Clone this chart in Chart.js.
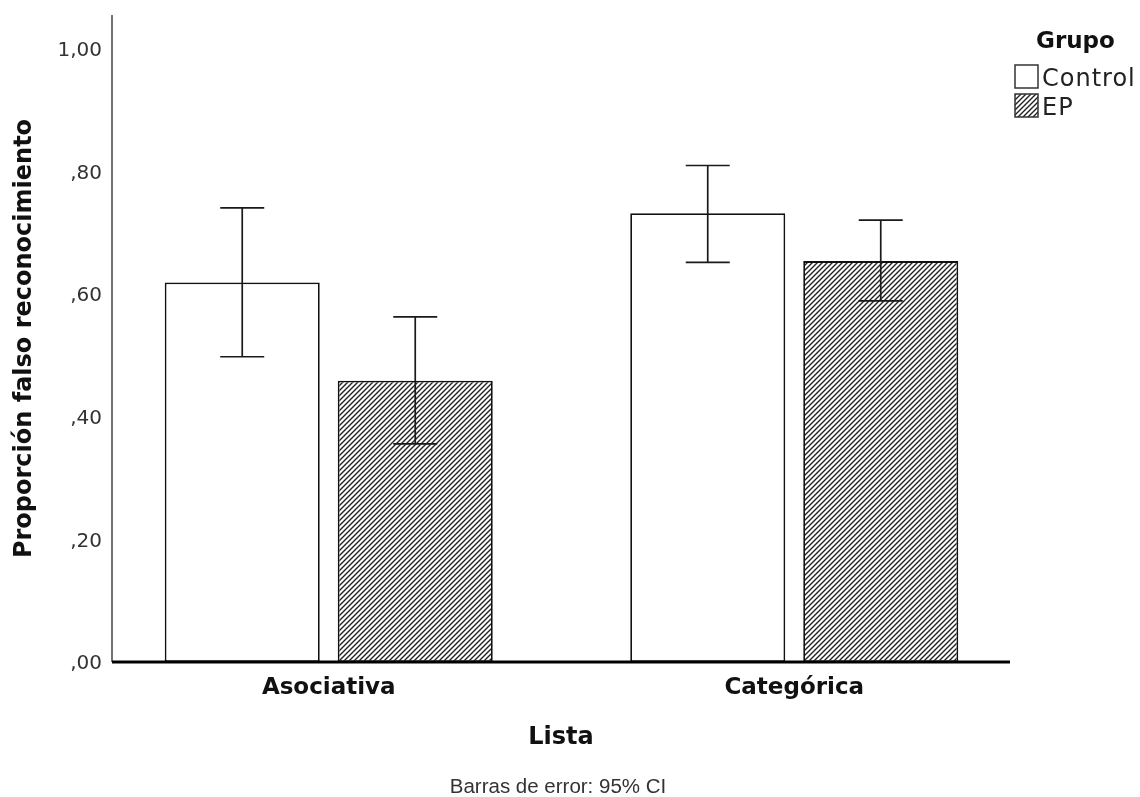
<!DOCTYPE html>
<html lang="es">
<head>
<meta charset="utf-8">
<title>Proporción falso reconocimiento</title>
<script src="https://cdn.jsdelivr.net/npm/chart.js@4.4.1/dist/chart.umd.min.js"></script>
<style>
  html, body { margin: 0; padding: 0; background: #fff; }
  #chart { display: block; }
</style>
</head>
<body>
<canvas id="chart" width="1140" height="797"></canvas>
<script>
// --- Data ---
const categories = ['Asociativa', 'Categórica'];
const groupLabels = ['Control', 'EP'];

const controlMeans = [0.619, 0.732];
const controlLower = [0.498, 0.652];
const controlUpper = [0.741, 0.810];

const epMeans = [0.459, 0.654];
const epLower = [0.356, 0.589];
const epUpper = [0.563, 0.721];

const yTickValues = [0, 0.2, 0.4, 0.6, 0.8, 1.0];
const yTickLabels = [',00', ',20', ',40', ',60', ',80', '1,00'];

// x range in category units (SPSS leaves more room left of the first group)
const xRange = [-0.4656, 1.4635];

const xTitle = 'Lista';
const yTitle = 'Proporción falso reconocimiento';
const legendTitle = 'Grupo';
const footnote = 'Barras de error: 95% CI';

document.addEventListener('DOMContentLoaded', () => {

    // --- Hatch pattern for the EP bars ---
    const makeHatch = () => {
        const s = 5;
        const tile = document.createElement('canvas');
        tile.width = s;
        tile.height = s;
        const t = tile.getContext('2d');
        t.fillStyle = '#fff';
        t.fillRect(0, 0, s, s);
        t.strokeStyle = '#222';
        t.lineWidth = 1.4;
        t.beginPath();
        t.moveTo(-1, s + 1); t.lineTo(s + 1, -1);
        t.moveTo(-1, 1); t.lineTo(1, -1);
        t.moveTo(s - 1, s + 1); t.lineTo(s + 1, s - 1);
        t.stroke();
        return t.createPattern(tile, 'repeat');
    };
    const ctx = document.getElementById('chart').getContext('2d');
    const hatch = makeHatch();

    // category index -> {x, y} points for the linear x scale
    const toPoints = (values) => values.map((v, i) => ({ x: i, y: v }));

    // --- Axis lines: thin grey y axis, heavy black baseline ---
    const axisLinesPlugin = {
        id: 'axisLines',
        afterDatasetsDraw(chart) {
            const { ctx, chartArea, scales: { y } } = chart;
            const zero = y.getPixelForValue(0);
            ctx.save();
            ctx.strokeStyle = '#444';
            ctx.lineWidth = 1.5;
            ctx.beginPath();
            ctx.moveTo(chartArea.left, chartArea.top);
            ctx.lineTo(chartArea.left, zero);
            ctx.stroke();
            ctx.strokeStyle = '#000';
            ctx.lineWidth = 3.2;
            ctx.beginPath();
            ctx.moveTo(chartArea.left, zero);
            ctx.lineTo(chartArea.right, zero);
            ctx.stroke();
            ctx.restore();
        }
    };

    // --- 95% CI error bars ---
    const errorBarsPlugin = {
        id: 'errorBars',
        afterDatasetsDraw(chart) {
            const { ctx, scales: { y } } = chart;
            const cap = 22;
            chart.data.datasets.forEach((ds, i) => {
                chart.getDatasetMeta(i).data.forEach((bar, j) => {
                    const top = y.getPixelForValue(ds.upper[j]);
                    const bottom = y.getPixelForValue(ds.lower[j]);
                    ctx.save();
                    ctx.strokeStyle = '#1a1a1a';
                    ctx.lineWidth = 1.7;
                    ctx.beginPath();
                    ctx.moveTo(bar.x, top); ctx.lineTo(bar.x, bottom);
                    ctx.moveTo(bar.x - cap, top); ctx.lineTo(bar.x + cap, top);
                    ctx.moveTo(bar.x - cap, bottom); ctx.lineTo(bar.x + cap, bottom);
                    ctx.stroke();
                    ctx.restore();
                });
            });
        }
    };

    // --- Legend (top right) and footnote ---
    const legendPlugin = {
        id: 'sideLegend',
        afterDraw(chart) {
            const { ctx } = chart;
            ctx.save();
            ctx.fillStyle = '#111';
            ctx.textBaseline = 'alphabetic';
            ctx.textAlign = 'left';
            ctx.font = 'bold 23px "DejaVu Sans"';
            ctx.fillText(legendTitle, 1036, 48);

            ctx.font = '24px "DejaVu Sans"';
            ctx.letterSpacing = '1px';
            chart.data.datasets.forEach((ds, i) => {
                const boxY = 65 + i * 29;
                ctx.fillStyle = ds.backgroundColor;
                ctx.fillRect(1015, boxY, 23, 23);
                ctx.strokeStyle = '#333';
                ctx.lineWidth = 1.5;
                ctx.strokeRect(1015, boxY, 23, 23);
                ctx.fillStyle = '#222';
                ctx.fillText(ds.label, 1042, boxY + 21);
            });
            ctx.letterSpacing = '0px';

            ctx.font = '20.5px "Liberation Sans"';
            ctx.fillStyle = '#333';
            ctx.textAlign = 'center';
            ctx.fillText(footnote, 558, 793);
            ctx.restore();
        }
    };

    new Chart(ctx, {
        type: 'bar',
        data: {
            datasets: [
                {
                    label: groupLabels[0],
                    data: toPoints(controlMeans),
                    lower: controlLower,
                    upper: controlUpper,
                    backgroundColor: '#ffffff',
                    borderColor: '#111',
                    borderWidth: 1.8,
                    borderSkipped: false
                },
                {
                    label: groupLabels[1],
                    data: toPoints(epMeans),
                    lower: epLower,
                    upper: epUpper,
                    backgroundColor: hatch,
                    borderColor: '#111',
                    borderWidth: 1.8,
                    borderSkipped: false
                }
            ]
        },
        options: {
            responsive: false,
            animation: false,
            devicePixelRatio: 1,
            categoryPercentage: 0.7433,
            barPercentage: 0.896,
            layout: { padding: { top: 15, right: 130, bottom: 47, left: 0 } },
            plugins: {
                legend: { display: false },
                tooltip: { enabled: false }
            },
            scales: {
                x: {
                    type: 'linear',
                    min: xRange[0],
                    max: xRange[1],
                    offset: false,
                    grid: { display: false, drawTicks: false },
                    border: { display: false },
                    afterBuildTicks: (scale) => {
                        scale.ticks = categories.map((c, i) => ({ value: i }));
                    },
                    ticks: {
                        padding: 12,
                        color: '#111',
                        font: { family: 'DejaVu Sans', size: 23, weight: 'bold' },
                        callback: (value, index) => categories[index]
                    },
                    title: {
                        display: true,
                        text: xTitle,
                        color: '#111',
                        padding: { top: 0, bottom: -2 },
                        font: { family: 'DejaVu Sans', size: 24, weight: 'bold' }
                    },
                    afterFit: (scale) => {
                        scale.height = 88;
                        scale.paddingLeft = 0;
                        scale.paddingRight = 0;
                    }
                },
                y: {
                    min: 0,
                    max: 1.0555,
                    grid: { display: false, drawTicks: false },
                    border: { display: false },
                    afterBuildTicks: (scale) => {
                        scale.ticks = yTickValues.map(v => ({ value: v }));
                    },
                    ticks: {
                        padding: 10,
                        labelOffset: 2,
                        color: '#333',
                        font: { family: 'DejaVu Sans', size: 20 },
                        callback: (value, index) => yTickLabels[index]
                    },
                    title: {
                        display: true,
                        text: yTitle,
                        color: '#111',
                        padding: { top: 10, bottom: 0 },
                        font: { family: 'DejaVu Sans', size: 24, weight: 'bold' }
                    },
                    afterFit: (scale) => {
                        scale.width = 112;
                        scale.paddingTop = 0;
                        scale.paddingBottom = 0;
                    }
                }
            }
        },
        plugins: [axisLinesPlugin, errorBarsPlugin, legendPlugin]
    });

});
</script>
</body>
</html>
